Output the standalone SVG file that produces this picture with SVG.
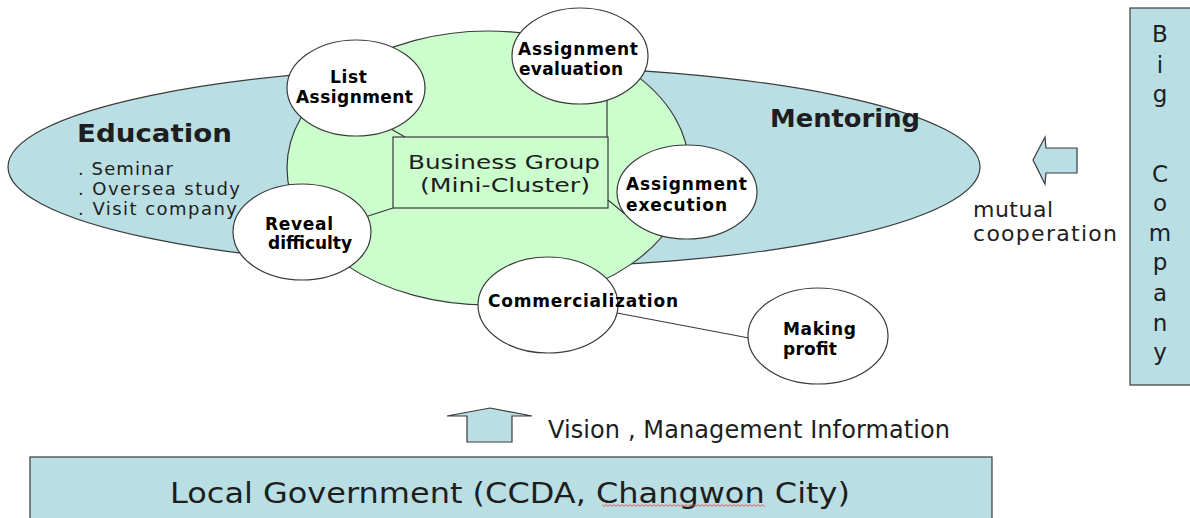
<svg xmlns="http://www.w3.org/2000/svg" width="1190" height="518" viewBox="0 0 1190 518">
<style>
.blue{fill:#b9dfe4;stroke:#3a3a3a;stroke-width:1.2}
.green{fill:#ccfdcc;stroke:#3a3a3a;stroke-width:1.2}
.node{fill:#ffffff;stroke:#3a3a3a;stroke-width:1.2}
.lbl{font-family:"DejaVu Sans","Liberation Sans",sans-serif;font-weight:bold;font-size:17px;fill:#000}
.txt{font-family:"DejaVu Sans","Liberation Sans",sans-serif;fill:#1e1e1e}
.conn{stroke:#3a3a3a;stroke-width:1.2;fill:none}
</style>
<defs>
<pattern id="wave" x="0" y="0" width="4" height="3" patternUnits="userSpaceOnUse">
<path d="M0 2.4 L2 0.6 L4 2.4" stroke="#e04040" stroke-width="0.8" fill="none"/>
</pattern>
</defs>

<g id="education-mentoring">
<ellipse class="blue" cx="494" cy="167" rx="486" ry="101"/>
<text class="txt" x="77" y="142" font-size="24" font-weight="bold" fill="#000" textLength="155" lengthAdjust="spacingAndGlyphs">Education</text>
<text class="txt" x="78" y="175" font-size="18" textLength="95">. Seminar</text>
<text class="txt" x="78" y="195" font-size="18" textLength="162">. Oversea study</text>
<text class="txt" x="78" y="215" font-size="18" textLength="159">. Visit company</text>
<text class="txt" x="770" y="127" font-size="24" font-weight="bold" fill="#000" textLength="150" lengthAdjust="spacingAndGlyphs">Mentoring</text>
</g>

<g id="business-group">
<ellipse class="green" cx="488" cy="168" rx="201" ry="137"/>
<rect class="green" x="393" y="137" width="215" height="71"/>
<text class="txt" x="408" y="169" font-size="19" fill="#2e4a2e" textLength="192" lengthAdjust="spacingAndGlyphs">Business Group</text>
<text class="txt" x="420" y="192" font-size="19" fill="#2e4a2e" textLength="170" lengthAdjust="spacingAndGlyphs">(Mini-Cluster)</text>
</g>

<g id="connectors">
<line class="conn" x1="607" y1="137" x2="607" y2="97"/>
<line class="conn" x1="608" y1="200" x2="625" y2="214"/>
<line class="conn" x1="393" y1="208" x2="362" y2="218"/>
<line class="conn" x1="405" y1="137" x2="391" y2="129"/>
<line class="conn" x1="617" y1="313" x2="749" y2="338"/>
</g>

<g id="list-assignment">
<ellipse class="node" cx="356" cy="88" rx="69" ry="48"/>
<text class="lbl" x="330" y="83" textLength="37">List</text>
<text class="lbl" x="296" y="103" textLength="117">Assignment</text>
</g>

<g id="assignment-evaluation">
<ellipse class="node" cx="580" cy="56" rx="68" ry="48"/>
<text class="lbl" x="518" y="55" textLength="120">Assignment</text>
<text class="lbl" x="519" y="75" textLength="104">evaluation</text>
</g>

<g id="assignment-execution">
<ellipse class="node" cx="687" cy="192" rx="70" ry="47"/>
<text class="lbl" x="626" y="190" textLength="121">Assignment</text>
<text class="lbl" x="626" y="211" textLength="101">execution</text>
</g>

<g id="reveal-difficulty">
<ellipse class="node" cx="302" cy="232" rx="69" ry="48"/>
<text class="lbl" x="265" y="230" textLength="68">Reveal</text>
<text class="lbl" x="268" y="249" textLength="84">difficulty</text>
</g>

<g id="commercialization">
<ellipse class="node" cx="548" cy="305" rx="70" ry="48"/>
<text class="lbl" x="488" y="307" textLength="190">Commercialization</text>
</g>

<g id="making-profit">
<ellipse class="node" cx="818" cy="336" rx="70" ry="48"/>
<text class="lbl" x="783" y="335" textLength="73">Making</text>
<text class="lbl" x="783" y="355" textLength="54">profit</text>
</g>

<g id="mutual-cooperation">
<polygon class="blue" points="1033,160 1045,137 1046,148 1077,148 1077,173 1046,173 1045,184"/>
<text class="txt" x="973" y="217" font-size="22" textLength="80">mutual</text>
<text class="txt" x="973" y="241" font-size="22" textLength="144">cooperation</text>
</g>

<g id="big-company">
<rect class="blue" x="1130" y="8" width="64" height="377"/>
<g class="txt" font-size="23" text-anchor="middle">
<text x="1160" y="42">B</text>
<text x="1160" y="73">i</text>
<text x="1160" y="102">g</text>
<text x="1160" y="182">C</text>
<text x="1160" y="211">o</text>
<text x="1160" y="241">m</text>
<text x="1160" y="270">p</text>
<text x="1160" y="301">a</text>
<text x="1160" y="331">n</text>
<text x="1160" y="360">y</text>
</g>
</g>

<g id="vision">
<polygon class="blue" points="490,408 532,416 512,416 512,442 467,442 467,416 447,416"/>
<text class="txt" x="548" y="438" font-size="24" textLength="402">Vision , Management Information</text>
</g>

<g id="local-government">
<rect class="blue" x="30" y="457" width="962" height="70"/>
<text class="txt" x="170" y="503" font-size="28" fill="#111" textLength="680" lengthAdjust="spacingAndGlyphs">Local Government (CCDA, Changwon City)</text>
<rect x="602" y="504" width="163" height="3" fill="url(#wave)"/>
</g>
</svg>
